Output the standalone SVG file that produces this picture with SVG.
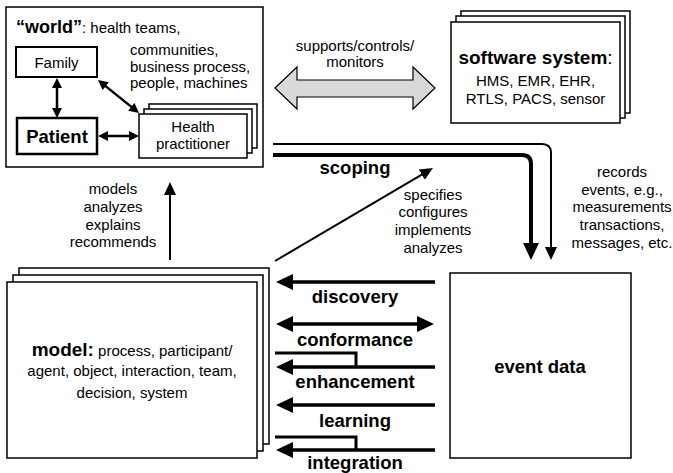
<svg xmlns="http://www.w3.org/2000/svg" width="673" height="473" viewBox="0 0 673 473">
<style>
text{font-family:"Liberation Sans",Arial,sans-serif;fill:#000}
.r{font-size:15px}
.b{font-size:18.5px;font-weight:bold}
.c{text-anchor:middle}
.box{fill:#fff;stroke:#000;stroke-width:1.5}
.nb{fill:#fff;stroke:#000;stroke-width:2}
.thick{fill:none;stroke:#000;stroke-width:3.5}
.brk{fill:none;stroke:#000;stroke-width:3}
.thin{fill:none;stroke:#000;stroke-width:2}
.sm{fill:none;stroke:#000;stroke-width:2.5}
</style>
<defs>
<marker id="hb" markerUnits="userSpaceOnUse" markerWidth="17" markerHeight="16" refX="2" refY="8" orient="auto-start-reverse"><path d="M0,0 L17,8 L0,16 Z" fill="#000"/></marker>
<marker id="ht" markerUnits="userSpaceOnUse" markerWidth="13" markerHeight="12" refX="2" refY="6" orient="auto-start-reverse"><path d="M0,0 L13,6 L0,12 Z" fill="#000"/></marker>
<marker id="hs" markerUnits="userSpaceOnUse" markerWidth="10" markerHeight="10" refX="1" refY="5" orient="auto-start-reverse"><path d="M0,0 L10,5 L0,10 Z" fill="#000"/></marker>
</defs>

<g id="world">
<rect class="box" x="6" y="7" width="257" height="160"/>
<text x="16" y="33"><tspan class="b" style="font-size:18px">“world”</tspan><tspan class="r">: health teams,</tspan></text>
<text class="r" x="130" y="55">communities,</text>
<text class="r" x="130" y="71.5">business process,</text>
<text class="r" x="130" y="88">people, machines</text>
</g>
<g id="family">
<rect class="nb" x="16" y="47" width="81" height="30"/>
<text class="r c" x="56.5" y="67.5">Family</text>
</g>
<g id="patient">
<rect class="nb" x="17" y="118" width="80" height="36" style="stroke-width:2.5"/>
<text class="b c" x="57" y="142.5">Patient</text>
</g>
<g id="health-practitioner">
<rect class="box" x="149" y="104" width="108" height="44"/>
<rect class="box" x="144" y="109" width="108" height="44"/>
<rect class="box" x="139" y="114" width="108" height="44"/>
<text class="r c" x="193" y="132">Health</text>
<text class="r c" x="193" y="149">practitioner</text>
</g>
<g id="software-system">
<rect class="box" x="461" y="11" width="169" height="102"/>
<rect class="box" x="456" y="16" width="169" height="102"/>
<rect class="box" x="451" y="22" width="169" height="101"/>
<text class="c" x="535.5" y="64"><tspan class="b" style="font-size:19px">software system</tspan><tspan class="r" style="font-size:19px">:</tspan></text>
<text class="r c" x="535.5" y="85.5">HMS, EMR, EHR,</text>
<text class="r c" x="535.5" y="104">RTLS, PACS, sensor</text>
</g>
<g id="model">
<rect class="box" x="19" y="268" width="250" height="176"/>
<rect class="box" x="13" y="275" width="250" height="176"/>
<rect class="box" x="7" y="282" width="250" height="176"/>
<text class="c" x="132" y="356"><tspan class="b" style="font-size:19px">model:</tspan><tspan class="r"> process, participant/</tspan></text>
<text class="r c" x="132" y="376">agent, object, interaction, team,</text>
<text class="r c" x="132" y="398">decision, system</text>
</g>
<g id="event-data">
<rect class="box" x="450" y="273" width="181" height="185"/>
<text class="b c" x="540" y="373">event data</text>
</g>

<g id="connectors">
<line class="sm" x1="57" y1="87" x2="57" y2="109" marker-start="url(#hs)" marker-end="url(#hs)"/>
<line class="sm" x1="107" y1="136" x2="130" y2="136" marker-start="url(#hs)" marker-end="url(#hs)"/>
<line class="sm" x1="105" y1="85.6" x2="132" y2="107.4" marker-start="url(#hs)" marker-end="url(#hs)"/>
<polygon points="275,88 297,67 297,80 413,80 413,67 435,88 413,109 413,97 297,97 297,109" fill="#d9d9d9" stroke="#000" stroke-width="1.2"/>
<text class="r c" x="355" y="51">supports/controls/</text>
<text class="r c" x="355" y="67">monitors</text>
<path class="thin" d="M273,144 H542 Q551,144 551,153 V249" marker-end="url(#ht)"/>
<path class="thick" d="M273,155 H522 Q531,155 531,164 V245" style="stroke-width:4" marker-end="url(#hb)"/>
<text class="b c" x="355" y="174">scoping</text>
<line class="thin" x1="275" y1="261" x2="423.5" y2="173.6" marker-end="url(#ht)"/>
<text class="r c" x="433" y="199.5">specifies</text>
<text class="r c" x="433" y="217">configures</text>
<text class="r c" x="433" y="235">implements</text>
<text class="r c" x="433" y="253">analyzes</text>
<text class="r c" x="622" y="176.5">records</text>
<text class="r c" x="622" y="194.5">events, e.g.,</text>
<text class="r c" x="622" y="212">measurements</text>
<text class="r c" x="622" y="229.5">transactions,</text>
<text class="r c" x="622" y="247.5">messages, etc.</text>
<line class="thin" x1="170" y1="260" x2="170" y2="193" marker-end="url(#ht)"/>
<text class="r c" x="113" y="193.5">models</text>
<text class="r c" x="113" y="211.5">analyzes</text>
<text class="r c" x="113" y="229.5">explains</text>
<text class="r c" x="113" y="247">recommends</text>
<line class="thick" x1="435" y1="282" x2="291" y2="282" marker-end="url(#hb)"/>
<text class="b c" x="355" y="303">discovery</text>
<line class="thick" x1="291" y1="324" x2="419" y2="324" marker-start="url(#hb)" marker-end="url(#hb)"/>
<text class="b c" x="355" y="345.5">conformance</text>
<polyline class="brk" points="275,353 356,353 356,367"/>
<line class="thick" x1="435" y1="367" x2="291" y2="367" marker-end="url(#hb)"/>
<text class="b c" x="355" y="388">enhancement</text>
<line class="thick" x1="435" y1="405" x2="291" y2="405" marker-end="url(#hb)"/>
<text class="b c" x="355" y="426.5">learning</text>
<polyline class="brk" points="275,437 356,437 356,450"/>
<line class="thick" x1="435" y1="450" x2="291" y2="450" marker-end="url(#hb)"/>
<text class="b c" x="355" y="469">integration</text>
</g>
</svg>
